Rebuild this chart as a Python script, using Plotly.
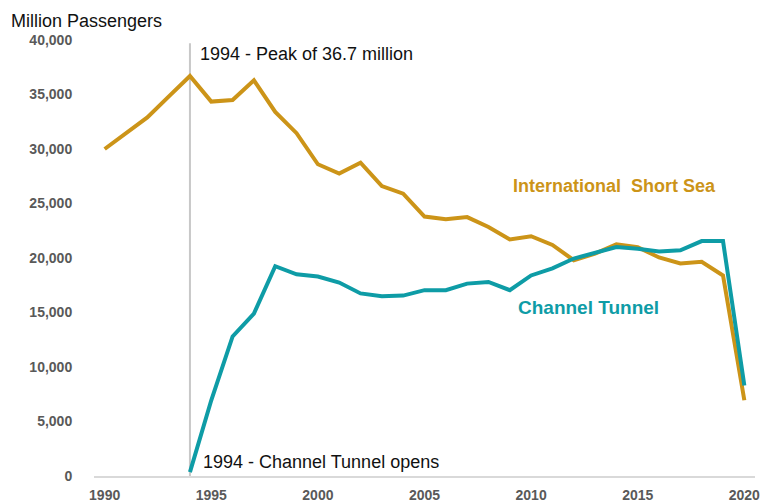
import plotly.graph_objects as go

years = list(range(1990, 2021))
short_sea = [30000, 31400, 32900, 34800, 36700, 34350, 34500, 36300, 33400, 31450,
             28600, 27750, 28750, 26600, 25900, 23800, 23550, 23750, 22850, 21700,
             22000, 21200, 19800, 20400, 21250, 21000, 20050, 19500, 19650, 18400, 6950]
tunnel_years = list(range(1994, 2021))
tunnel = [350, 6950, 12800, 14900, 19250, 18500, 18300, 17750, 16750, 16500,
          16550, 17050, 17050, 17650, 17800, 17050, 18400, 19050, 19950, 20500,
          21000, 20850, 20600, 20700, 21550, 21550, 8300]
x_ticks = [1990, 1995, 2000, 2005, 2010, 2015, 2020]
y_ticks = [0, 5000, 10000, 15000, 20000, 25000, 30000, 35000, 40000]

GOLD = "#CC9418"
TEAL = "#0E9CA6"
FONT = "Liberation Sans, Arial, sans-serif"

fig = go.Figure()
fig.add_trace(go.Scatter(x=years, y=short_sea, mode="lines",
                         line=dict(color=GOLD, width=4), name="International Short Sea"))
fig.add_trace(go.Scatter(x=tunnel_years, y=tunnel, mode="lines",
                         line=dict(color=TEAL, width=4), name="Channel Tunnel"))

fig.add_shape(type="line", xref="x", yref="y", x0=1994, x1=1994, y0=0, y1=39700,
              line=dict(color="#c8c8c8", width=2), layer="below")

fig.add_annotation(x=1994, y=38700, xref="x", yref="y", text="1994 - Peak of 36.7 million",
                   showarrow=False, xanchor="left", xshift=8,
                   font=dict(family=FONT, size=18, color="#111111"))
fig.add_annotation(x=1994, y=1330, xref="x", yref="y", text="1994 - Channel Tunnel opens",
                   showarrow=False, xanchor="left", xshift=11,
                   font=dict(family=FONT, size=18, color="#111111"))
fig.add_annotation(x=2009.05, y=26590, xref="x", yref="y", text="<b>International  Short Sea</b>",
                   showarrow=False, xanchor="left",
                   font=dict(family=FONT, size=18, color=GOLD))
fig.add_annotation(x=2009.3, y=15480, xref="x", yref="y", text="<b>Channel Tunnel</b>",
                   showarrow=False, xanchor="left",
                   font=dict(family=FONT, size=19, color=TEAL))
fig.add_annotation(x=0, y=1, xref="paper", yref="paper", xanchor="left", yanchor="bottom",
                   text="Million Passengers", showarrow=False, xshift=-85, yshift=7,
                   font=dict(family=FONT, size=18, color="#111111"))

fig.update_layout(
    width=777, height=504,
    margin=dict(l=94, r=22, t=40, b=28),
    plot_bgcolor="white", paper_bgcolor="white",
    showlegend=False,
    xaxis=dict(range=[1989.5, 2020.5], tickvals=x_ticks, showgrid=False, zeroline=False,
               showline=True, linecolor="#d9d9d9", linewidth=1.5, automargin=False,
               ticks="outside", ticklen=5, tickcolor="rgba(0,0,0,0)",
               tickfont=dict(family=FONT, size=14, color="#595959", weight="bold")),
    yaxis=dict(range=[0, 40000], tickvals=y_ticks, tickformat=",d", showgrid=False,
               zeroline=False, showline=False, automargin=False,
               ticks="outside", ticklen=18, tickcolor="rgba(0,0,0,0)",
               tickfont=dict(family=FONT, size=14, color="#595959", weight="bold")),
)

fig.write_html("out.html")
